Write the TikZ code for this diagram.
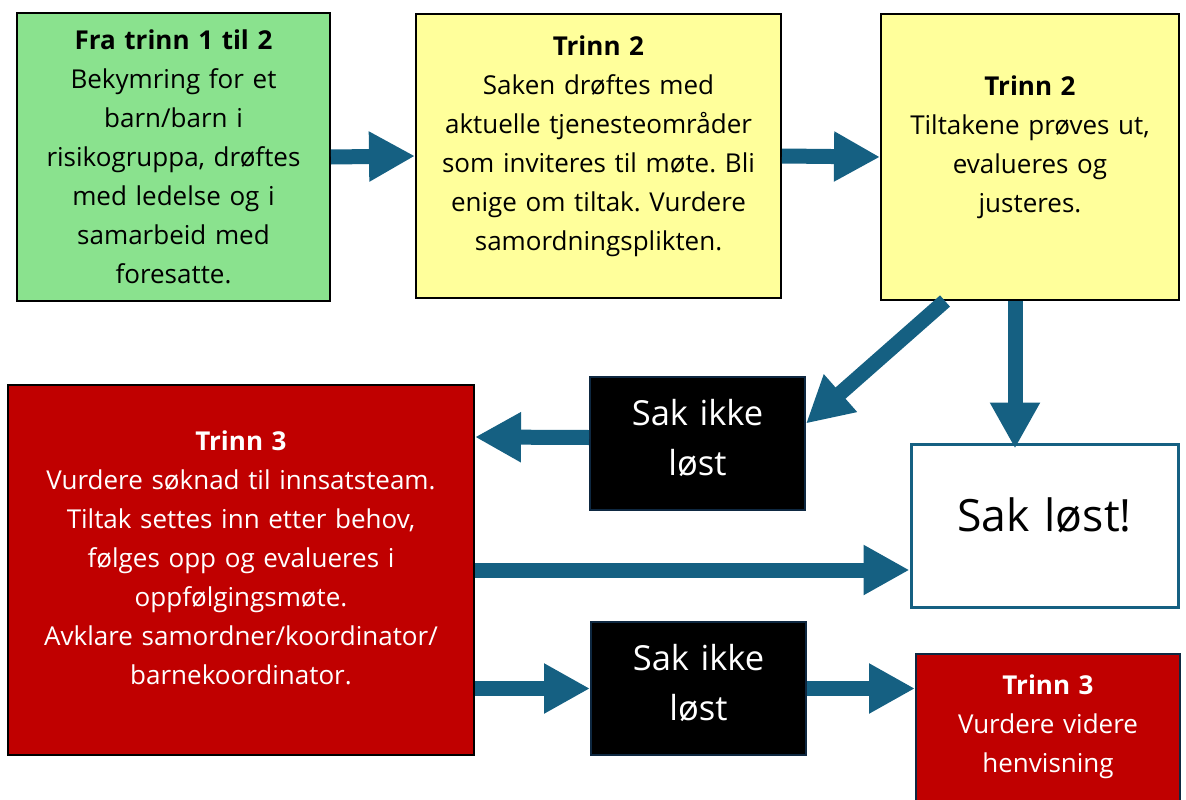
\documentclass[tikz,border=0pt]{standalone}
\usepackage{fontspec}
\setmainfont{Open Sans}
\usetikzlibrary{arrows.meta,calc}
\definecolor{flow}{HTML}{156082}
\definecolor{navy}{HTML}{0E2841}
\definecolor{grn}{HTML}{8AE28E}
\definecolor{gul}{HTML}{FFFF9B}
\definecolor{rod}{HTML}{C00000}
\frenchspacing
\begin{document}
\begin{tikzpicture}[x=1pt,y=-1pt,>={Triangle[length=46pt,width=47pt]},
    box/.style={draw,line width=2pt,inner sep=0pt,align=center,
      font=\fontsize{26}{39}\selectfont},
    textup/.style={execute at end node={\endgraf\vspace{#1pt}}},
    pil/.style={->,draw=flow,line width=15pt}]
  \useasboundingbox (0,0) rectangle (1186,800);
  % top row
  \node[box,fill=grn,minimum width=313pt,minimum height=288pt,text width=310pt] (fra) at (173.5,157)
    {\textbf{Fra trinn 1 til 2}\\Bekymring for et\\barn/barn i\\risikogruppa, drøftes\\med ledelse og i\\samarbeid med\\foresatte.};
  \node[box,fill=gul,minimum width=365pt,minimum height=284pt,text width=362pt,textup=20] (saken) at (598.5,156)
    {\textbf{Trinn 2}\\Saken drøftes med\\aktuelle tjenesteområder\\som inviteres til møte. Bli\\enige om tiltak. Vurdere\\samordningsplikten.};
  \node[box,fill=gul,minimum width=298pt,minimum height=286pt,text width=295pt,textup=20] (tiltak) at (1030,157)
    {\textbf{Trinn 2}\\Tiltakene prøves ut,\\evalueres og\\justeres.};
  % middle and bottom
  \node[box,fill=black,draw=navy,text=white,minimum width=215pt,minimum height=133pt,text width=210pt,
    font=\fontsize{34.5}{50}\selectfont,textup=12] (ikke1) at (697.5,443.5) {Sak ikke\\løst};
  \node[box,fill=rod,text=white,minimum width=466pt,minimum height=370pt,text width=460pt,textup=24] (trinn3) at (241,570)
    {\textbf{Trinn 3}\\Vurdere søknad til innsatsteam.\\Tiltak settes inn etter behov,\\følges opp og evalueres i\\oppfølgingsmøte.\\Avklare samordner/koordinator/\\barnekoordinator.};
  \node[box,fill=white,draw=flow,line width=3pt,minimum width=267pt,minimum height=163pt,text width=262pt,
    font=\fontsize{44.5}{50}\selectfont,textup=20] (lost) at (1044.5,525.5) {Sak løst!};
  \node[box,fill=black,draw=navy,text=white,minimum width=215pt,minimum height=133pt,text width=210pt,
    font=\fontsize{34.5}{50}\selectfont,textup=12] (ikke2) at (698.5,688.5) {Sak ikke\\løst};
  \node[box,fill=rod,draw=navy,text=white,minimum width=264pt,minimum height=156pt,text width=260pt,textup=10] (videre) at (1048,732)
    {\textbf{Trinn 3}\\Vurdere videre\\henvisning};
  % arrows
  \draw[pil] (fra.east) -- (saken.west);
  \draw[pil] (saken.east) -- (tiltak.west);
  \draw[pil] ($(tiltak.south)+(-85,0)$) -- ($(ikke1.east)+(0,-20)$);
  \draw[pil] ($(tiltak.south)+(-15,0)$) -- ($(lost.north)+(-29.5,6)$);
  \draw[pil] ($(ikke1.west)+(0,-6)$) -- ($(trinn3.east)+(0,-133)$);
  \draw[pil] (trinn3.east) -- (trinn3.east -| lost.west);
  \draw[pil] (trinn3.east |- ikke2.west) -- (ikke2.west);
  \draw[pil] (ikke2.east) -- (ikke2.east -| videre.west);
\end{tikzpicture}
\end{document}
